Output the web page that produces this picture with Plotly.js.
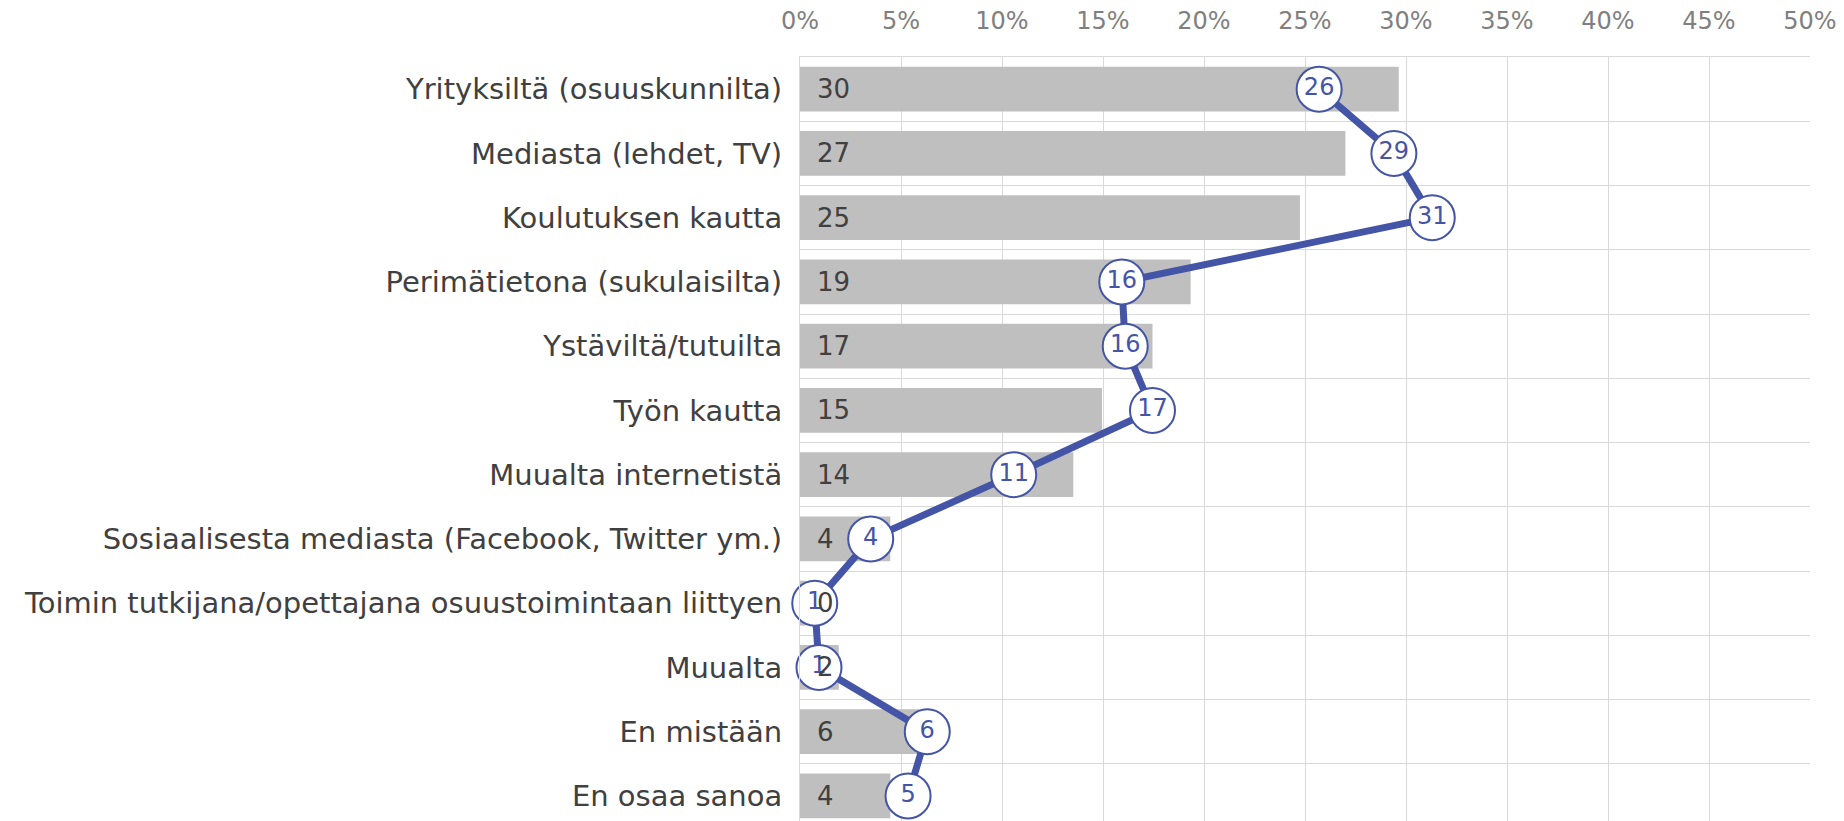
<!DOCTYPE html>
<html>
<head>
<meta charset="utf-8">
<script src="https://cdn.plot.ly/plotly-3.0.1.min.js"></script>
<style>
html, body { margin: 0; padding: 0; overflow: hidden; background: #fff; }
#chart { width: 1844px; height: 830px; }
</style>
</head>
<body>
<div id="chart"></div>
<script>
// Categories (top to bottom)
const categories = [
  "Yrityksiltä (osuuskunnilta)",
  "Mediasta (lehdet, TV)",
  "Koulutuksen kautta",
  "Perimätietona (sukulaisilta)",
  "Ystäviltä/tutuilta",
  "Työn kautta",
  "Muualta internetistä",
  "Sosiaalisesta mediasta (Facebook, Twitter ym.)",
  "Toimin tutkijana/opettajana osuustoimintaan liittyen",
  "Muualta",
  "En mistään",
  "En osaa sanoa"
];
// Bar series (percent)
const barValues = [29.64, 27.0, 24.75, 19.34, 17.45, 14.95, 13.53, 4.47, 0.28, 1.92, 5.9, 4.47];
// Line series (percent)
const lineValues = [25.7, 29.4, 31.3, 15.93, 16.1, 17.45, 10.58, 3.5, 0.73, 0.94, 6.3, 5.35];
// Axis ticks
const xTickVals = [0, 5, 10, 15, 20, 25, 30, 35, 40, 45, 50];

const BLUE = "#4454a6";
const FONT = "DejaVu Sans";
const GRID = "#d9d9d9";

const barTrace = {
  type: "bar",
  orientation: "h",
  x: barValues,
  y: categories,
  marker: { color: "#bfbfbf" },
  hoverinfo: "skip",
  showlegend: false
};

const lineTrace = {
  type: "scatter",
  mode: "lines+markers+text",
  x: lineValues,
  y: categories,
  line: { color: BLUE, width: 7 },
  marker: { size: 45, color: "#ffffff", line: { color: BLUE, width: 2 } },
  texttemplate: "%{x:.0f}",
  textposition: "middle center",
  textfont: { family: FONT, size: 24, color: BLUE },
  cliponaxis: false,
  hoverinfo: "skip",
  showlegend: false
};

const barLabels = categories.map((c, i) => ({
  x: 0,
  y: c,
  xref: "x",
  yref: "y",
  text: barValues[i].toFixed(0),
  showarrow: false,
  xanchor: "left",
  yanchor: "middle",
  xshift: 15,
  font: { family: FONT, size: 26, color: "#404040" }
}));

const layout = {
  width: 1844,
  height: 830,
  margin: { l: 800, r: 34, t: 57, b: 2, pad: 0 },
  paper_bgcolor: "#ffffff",
  plot_bgcolor: "#ffffff",
  font: { family: FONT },
  bargap: 0.3,
  showlegend: false,
  xaxis: {
    side: "top",
    range: [0, 50],
    tickvals: xTickVals,
    ticktext: xTickVals.map(v => v + "%"),
    showgrid: true,
    gridcolor: GRID,
    gridwidth: 1,
    zeroline: false,
    showline: true,
    linecolor: GRID,
    linewidth: 1,
    ticks: "",
    automargin: false,
    ticklabelstandoff: 17,
    tickfont: { family: FONT, size: 24, color: "#7f7f7f" },
    fixedrange: true
  },
  yaxis: {
    type: "category",
    range: [categories.length - 0.5, -0.5],
    tickson: "boundaries",
    showgrid: true,
    gridcolor: GRID,
    gridwidth: 1,
    zeroline: false,
    showline: true,
    linecolor: GRID,
    linewidth: 1,
    ticks: "",
    automargin: false,
    ticklabelstandoff: 11,
    tickfont: { family: FONT, size: 29, color: "#404040" },
    fixedrange: true
  },
  annotations: barLabels
};

Plotly.newPlot("chart", [barTrace, lineTrace], layout, { staticPlot: true, displayModeBar: false });
</script>
</body>
</html>
